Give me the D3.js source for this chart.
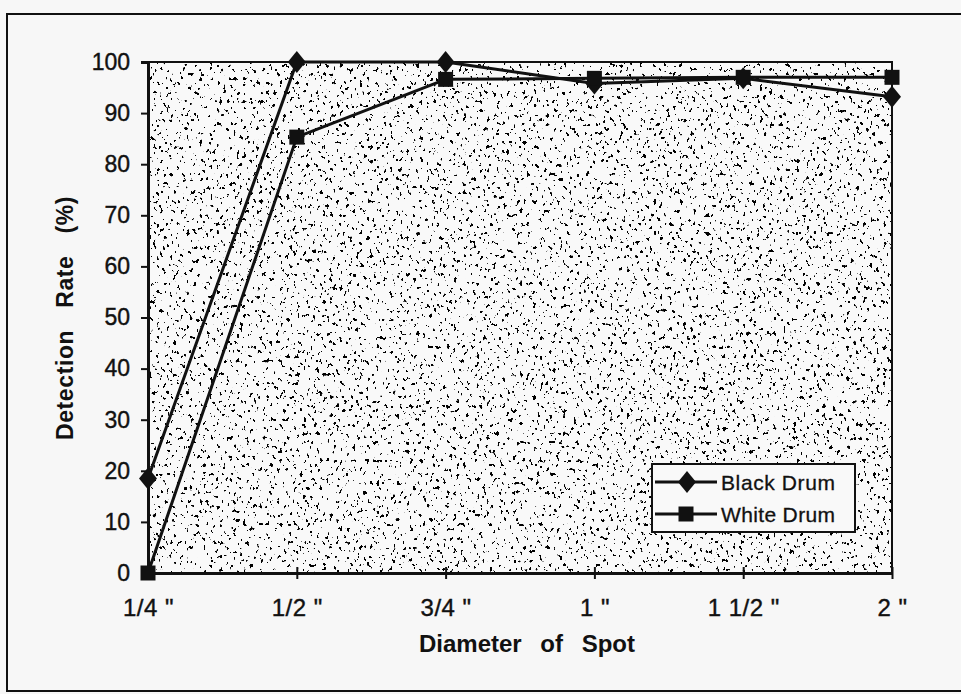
<!DOCTYPE html>
<html><head><meta charset="utf-8">
<script src="https://cdn.jsdelivr.net/npm/d3@7"></script>
<style>
html,body{margin:0;padding:0;background:#f7f7f7;}
svg{display:block;font-family:"Liberation Sans",Arial,Helvetica,sans-serif;}
</style></head>
<body>
<svg id="chart" width="961" height="694"></svg>
<script>
const categories = ['1/4 "', '1/2 "', '3/4 "', '1 "', '1 1/2 "', '2 "'];
const blackDrum = [18.5, 100, 100, 95.8, 96.8, 93.2];
const whiteDrum = [0, 85.3, 96.6, 96.8, 97, 97];
const yTicks = [0, 10, 20, 30, 40, 50, 60, 70, 80, 90, 100];
const seriesNames = ["Black Drum", "White Drum"];

const svg = d3.select("#chart");
const L = 148, R = 892, T = 62, B = 573;
const x = d3.scalePoint().domain(categories).range([L, R]).padding(0);
const y = d3.scaleLinear().domain([0, 100]).range([B, T]);

// outer frame
svg.append("rect").attr("x", 7).attr("y", 14).attr("width", 970).attr("height", 677)
  .attr("fill", "#f7f7f7").attr("stroke", "#111").attr("stroke-width", 2);

// stipple filter
const defs = svg.append("defs");
const f = defs.append("filter").attr("id", "stip")
  .attr("color-interpolation-filters", "sRGB").attr("filterUnits", "userSpaceOnUse")
  .attr("x", L).attr("y", T).attr("width", R - L).attr("height", B - T);
f.append("feTurbulence").attr("type", "fractalNoise").attr("baseFrequency", "0.30 0.22")
  .attr("numOctaves", 2).attr("seed", 7).attr("result", "n");
f.append("feColorMatrix").attr("type", "matrix")
  .attr("values", "0 0 0 0 0  0 0 0 0 0  0 0 0 0 0  -45 0 0 0 15.3");

svg.append("rect").attr("x", L).attr("y", T).attr("width", R - L).attr("height", B - T)
  .attr("fill", "#f9f9f9");
svg.append("rect").attr("x", L).attr("y", T).attr("width", R - L).attr("height", B - T)
  .attr("fill", "#000").attr("filter", "url(#stip)");

// plot border (top/right thin)
svg.append("path").attr("d", `M${L},${T}H${R}V${B}`).attr("fill", "none")
  .attr("stroke", "#111").attr("stroke-width", 2);

// y axis
const yAxis = d3.axisLeft(y).tickValues(yTicks).tickSize(7).tickPadding(11).tickFormat(d3.format("d"));
const gy = svg.append("g").attr("transform", `translate(${L},0)`).call(yAxis);
gy.select(".domain").attr("stroke", "#111").attr("stroke-width", 3);
gy.selectAll(".tick line").attr("stroke", "#111").attr("stroke-width", 2);
gy.selectAll(".tick text").attr("font-size", 23).attr("fill", "#111")
  .attr("stroke", "#111").attr("stroke-width", 0.4)
  .attr("font-family", "'Liberation Sans', Arial, sans-serif");

// x axis
const xAxis = d3.axisBottom(x).tickSize(0).tickPadding(26);
const gx = svg.append("g").attr("transform", `translate(0,${B})`).call(xAxis);
gx.select(".domain").attr("stroke", "#111").attr("stroke-width", 3);
gx.selectAll(".tick text").attr("font-size", 24).attr("fill", "#111")
  .attr("stroke", "#111").attr("stroke-width", 0.4).attr("letter-spacing", 0.5)
  .attr("font-family", "'Liberation Sans', Arial, sans-serif");
gx.selectAll(".tick").append("line").attr("y1", -6).attr("y2", 6)
  .attr("stroke", "#111").attr("stroke-width", 2);

// axis titles
svg.append("text").attr("x", 527).attr("y", 652).attr("text-anchor", "middle")
  .attr("font-size", 24).attr("font-weight", "bold").attr("fill", "#111")
  .attr("word-spacing", 12).text("Diameter of Spot");
svg.append("text").attr("transform", "translate(73,318) rotate(-90)").attr("text-anchor", "middle")
  .attr("font-size", 23).attr("font-weight", "bold").attr("fill", "#111")
  .attr("word-spacing", 15).attr("letter-spacing", 0.6).text("Detection Rate (%)");

// lines
const line = d3.line().x((d, i) => x(categories[i])).y(d => y(d));
const series = [blackDrum, whiteDrum];
series.forEach(s => {
  svg.append("path").datum(s).attr("d", line).attr("fill", "none")
    .attr("stroke", "#111").attr("stroke-width", 3).attr("stroke-linejoin", "round");
});
const diamond = (cx, cy) => `M${cx},${cy - 11}L${cx + 9},${cy}L${cx},${cy + 11}L${cx - 9},${cy}Z`;
const square = (cx, cy) => `M${cx - 7.5},${cy - 7.5}h15v15h-15Z`;
svg.append("g").selectAll("path").data(blackDrum).join("path")
  .attr("d", (d, i) => diamond(x(categories[i]), y(d))).attr("fill", "#111");
svg.append("g").selectAll("path").data(whiteDrum).join("path")
  .attr("d", (d, i) => square(x(categories[i]), y(d))).attr("fill", "#111");

// legend
const lg = svg.append("g");
lg.append("rect").attr("x", 652).attr("y", 464).attr("width", 203).attr("height", 68)
  .attr("fill", "#f9f9f9").attr("stroke", "#111").attr("stroke-width", 2);
const rows = [482, 514];
seriesNames.forEach((n, i) => {
  lg.append("line").attr("x1", 655).attr("x2", 717).attr("y1", rows[i]).attr("y2", rows[i])
    .attr("stroke", "#111").attr("stroke-width", 3);
  lg.append("path").attr("d", i === 0 ? diamond(687, rows[i]) : square(686, rows[i])).attr("fill", "#111");
  lg.append("text").attr("x", 721).attr("y", rows[i] + 8).attr("font-size", 21)
    .attr("stroke", "#111").attr("stroke-width", 0.3)
    .attr("textLength", 114).attr("fill", "#111").text(n);
});
</script>
</body></html>
